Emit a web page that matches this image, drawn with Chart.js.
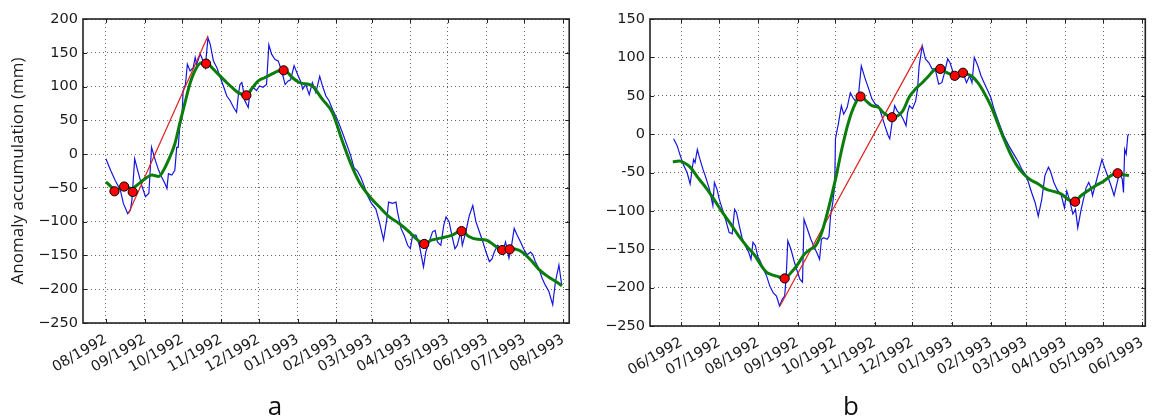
<!DOCTYPE html>
<html>
<head>
<meta charset="utf-8">
<script src="https://cdn.jsdelivr.net/npm/chart.js@4.4.0/dist/chart.umd.min.js"></script>
<style>
  body { margin: 0; background: #fff; }
  #wrap { position: relative; width: 1159px; height: 420px; overflow: hidden; background: #fff; }
  .panel { position: absolute; top: 0; }
  .tag { position: absolute; top: 392px; font: 26px "Open Sans", sans-serif; line-height: 26px; color: #111; transform: translateX(-50%); }
</style>
</head>
<body>
<div id="wrap">
  <canvas id="chartA" class="panel" width="580" height="420" style="left:0"></canvas>
  <canvas id="chartB" class="panel" width="579" height="420" style="left:580px"></canvas>
  <div class="tag" style="left:275px">a</div>
  <div class="tag" style="left:851px">b</div>
</div>
<script>
// Month positions: 0 = 01/1992, 12 = 01/1993, fraction = part of that month

// Panel a
const aTickMonths = [7, 8, 9, 10, 11, 12, 13, 14, 15, 16, 17, 18, 19];
const aTickLabels = ["08/1992", "09/1992", "10/1992", "11/1992", "12/1992", "01/1993", "02/1993",
  "03/1993", "04/1993", "05/1993", "06/1993", "07/1993", "08/1993"];
const aBlueX = [7.00, 7.12, 7.24, 7.37, 7.45, 7.56, 7.63, 7.67, 7.74, 7.84, 7.93, 8.02, 8.11, 8.18,
  8.28, 8.37, 8.45, 8.54, 8.59, 8.63, 8.72, 8.80, 8.85, 8.89, 8.93, 8.99, 9.02, 9.08, 9.13, 9.20,
  9.28, 9.33, 9.37, 9.46, 9.50, 9.59, 9.66, 9.72, 9.80, 9.89, 9.98, 10.07, 10.15, 10.24, 10.33,
  10.41, 10.46, 10.50, 10.55, 10.59, 10.63, 10.72, 10.76, 10.85, 10.94, 11.02, 11.11, 11.20, 11.26,
  11.33, 11.42, 11.50, 11.59, 11.68, 11.75, 11.82, 11.91, 12.00, 12.09, 12.13, 12.21, 12.30, 12.38,
  12.47, 12.57, 12.64, 12.73, 12.81, 12.90, 13.03, 13.17, 13.31, 13.41, 13.50, 13.60, 13.70, 13.79,
  13.89, 14.00, 14.11, 14.20, 14.31, 14.39, 14.44, 14.54, 14.63, 14.67, 14.76, 14.84, 14.93, 15.00,
  15.06, 15.15, 15.24, 15.35, 15.41, 15.50, 15.59, 15.66, 15.72, 15.81, 15.89, 15.95, 16.03, 16.10,
  16.18, 16.24, 16.33, 16.37, 16.46, 16.55, 16.64, 16.72, 16.81, 16.90, 16.98, 17.07, 17.14, 17.20,
  17.29, 17.35, 17.42, 17.50, 17.59, 17.66, 17.73, 17.81, 17.90, 17.98, 18.07, 18.16, 18.22, 18.28,
  18.37, 18.46, 18.54, 18.63, 18.73, 18.80, 18.89, 18.96];
const aBlueY = [-7, -24, -39, -53, -73, -88, -83, -68, -7, -29, -48, -63, -58, 10,
  -9, -24, -34, -44, -51, -29, -31, -24, 10, 10, 40, 54, 94, 103, 133, 123,
  128, 143, 133, 148, 143, 128, 172, 162, 138, 128, 113, 99, 86, 79, 69,
  62, 89, 103, 106, 94, 79, 69, 89, 99, 94, 101, 99, 103, 162,
  148, 140, 138, 123, 103, 108, 110, 131, 118, 106, 96, 103, 88, 106,
  91, 115, 101, 86, 79, 66, 51, 32, 12, -3, -20, -25, -35, -47,
  -62, -73, -81, -100, -127, -98, -71, -73, -71, -86, -110, -120, -135, -140,
  -120, -120, -135, -167, -145, -130, -115, -113, -130, -135, -105, -93, -100, -120,
  -140, -135, -115, -135, -115, -91, -76, -100, -115, -130, -145, -159, -155, -145,
  -135, -138, -145, -130, -154, -135, -110, -120, -130, -140, -149, -145, -149, -159,
  -169, -184, -194, -203, -223, -189, -164, -193];
const aGreenX = [7.00, 7.13, 7.24, 7.40, 7.50, 7.67, 7.84, 8.02, 8.19, 8.37, 8.50, 8.63, 8.80, 8.93,
  9.06, 9.19, 9.32, 9.48, 9.63, 9.76, 9.93, 10.11, 10.28, 10.45, 10.67, 10.80, 10.98, 11.15, 11.32,
  11.50, 11.64, 11.87, 12.04, 12.30, 12.38, 12.64, 12.90, 13.15, 13.40, 13.66, 13.98, 14.20, 14.46,
  14.72, 14.97, 15.19, 15.36, 15.58, 15.84, 16.11, 16.35, 16.54, 16.76, 16.98, 17.20, 17.40, 17.61,
  17.85, 18.03, 18.20, 18.38, 18.60, 18.82, 18.97];
const aGreenY = [-41, -48, -53, -50, -48, -51, -44, -36, -31, -33, -24, -9, 15, 45,
  74, 103, 123, 135, 135, 128, 118, 108, 99, 91, 87, 96, 108, 113, 118,
  123, 125, 113, 106, 103, 101, 81, 61, 22, -13, -42, -65, -78, -93,
  -103, -115, -127, -132, -127, -124, -120, -113, -122, -126, -127, -135, -142, -140,
  -142, -149, -159, -171, -181, -189, -195];
const aRedX = [7.58, 9.66];
const aRedY = [-88, 175];
const aDotX = [7.22, 7.47, 7.69, 9.61, 10.67, 11.64, 15.37, 16.35, 17.41, 17.61];
const aDotY = [-55, -48, -56, 134, 87, 124, -133, -114, -142, -141];

// Panel b
const bTickMonths = [5, 6, 7, 8, 9, 10, 11, 12, 13, 14, 15, 16, 17];
const bTickLabels = ["06/1992", "07/1992", "08/1992", "09/1992", "10/1992", "11/1992", "12/1992",
  "01/1993", "02/1993", "03/1993", "04/1993", "05/1993", "06/1993"];
const bBlueX = [4.80, 4.89, 4.97, 5.06, 5.15, 5.23, 5.32, 5.36, 5.42, 5.49, 5.57, 5.66, 5.74, 5.83,
  5.87, 5.94, 6.00, 6.08, 6.17, 6.25, 6.33, 6.39, 6.44, 6.50, 6.58, 6.67, 6.75, 6.81, 6.86, 6.92,
  6.98, 7.04, 7.13, 7.21, 7.29, 7.38, 7.46, 7.54, 7.61, 7.67, 7.71, 7.75, 7.83, 7.92, 8.00, 8.06,
  8.13, 8.17, 8.26, 8.35, 8.43, 8.52, 8.58, 8.63, 8.69, 8.78, 8.83, 8.87, 8.93, 8.98, 9.00, 9.08,
  9.15, 9.21, 9.30, 9.38, 9.44, 9.51, 9.59, 9.66, 9.76, 9.85, 9.93, 10.02, 10.10, 10.19, 10.27,
  10.36, 10.40, 10.46, 10.53, 10.60, 10.68, 10.75, 10.83, 10.87, 10.92, 11.00, 11.08, 11.13, 11.17,
  11.25, 11.33, 11.42, 11.50, 11.58, 11.67, 11.75, 11.82, 11.90, 11.96, 12.04, 12.13, 12.21, 12.29,
  12.38, 12.46, 12.52, 12.58, 12.67, 12.75, 12.83, 12.90, 13.00, 13.09, 13.23, 13.37, 13.51, 13.65,
  13.79, 13.88, 14.00, 14.06, 14.14, 14.23, 14.31, 14.40, 14.48, 14.57, 14.62, 14.71, 14.79, 14.90,
  14.98, 15.04, 15.11, 15.20, 15.27, 15.33, 15.42, 15.48, 15.55, 15.62, 15.68, 15.72, 15.81, 15.90,
  15.97, 16.02, 16.11, 16.20, 16.28, 16.34, 16.42, 16.49, 16.52, 16.55, 16.59, 16.63, 16.66];
const bBlueY = [-6, -15, -28, -41, -50, -65, -33, -37, -20, -33, -46, -59, -72, -93,
  -63, -72, -85, -98, -113, -128, -130, -98, -102, -117, -135, -146, -154, -163, -141, -145,
  -159, -165, -176, -185, -198, -207, -211, -224, -215, -211, -185, -139, -150, -167, -180, -189,
  -193, -111, -124, -137, -146, -156, -163, -137, -135, -137, -133, -107, -89, -67, -6, 15,
  37, 26, 35, 54, 48, 43, 52, 89, 72, 59, 46, 39, 37, 24, 11,
  -2, -6, 15, 37, 30, 26, 20, 11, 28, 37, 33, 43, 59, 89,
  115, 98, 93, 85, 85, 65, 67, 80, 98, 93, 80, 76, 74, 80,
  67, 76, 67, 100, 89, 76, 67, 59, 48, 33, 15, -2, -15, -26,
  -37, -46, -54, -63, -76, -89, -107, -85, -54, -43, -48, -63, -72, -80,
  -96, -74, -85, -104, -98, -122, -98, -85, -70, -63, -70, -80, -63, -46,
  -33, -41, -54, -67, -80, -67, -50, -59, -76, -20, -26, -2, 0];
const bGreenX = [4.78, 4.95, 5.06, 5.23, 5.44, 5.65, 5.86, 6.08, 6.29, 6.50, 6.70, 6.92, 7.08, 7.21,
  7.33, 7.46, 7.67, 7.84, 8.00, 8.17, 8.34, 8.47, 8.64, 8.81, 9.00, 9.16, 9.33, 9.50, 9.64, 9.79,
  9.93, 10.10, 10.23, 10.46, 10.74, 10.91, 11.08, 11.25, 11.42, 11.54, 11.71, 11.88, 12.08, 12.29,
  12.50, 12.67, 12.83, 13.00, 13.19, 13.37, 13.56, 13.74, 13.93, 14.10, 14.31, 14.52, 14.73, 14.90,
  15.07, 15.24, 15.42, 15.59, 15.81, 16.02, 16.20, 16.37, 16.50, 16.66];
const bGreenY = [-36, -35, -37, -43, -57, -70, -85, -102, -117, -133, -146, -159, -172, -180,
  -183, -185, -188, -180, -170, -157, -150, -146, -128, -98, -59, -20, 15, 39, 49, 43,
  37, 35, 28, 22, 30, 48, 59, 67, 76, 83, 85, 80, 77, 79,
  76, 67, 54, 37, 15, -6, -26, -41, -52, -59, -65, -72, -75, -78,
  -85, -88, -80, -74, -67, -61, -54, -51, -53, -54];
const bRedX = [7.55, 11.25];
const bRedY = [-224, 115];
const bDotX = [7.67, 9.64, 10.46, 11.71, 12.08, 12.29, 15.26, 16.37];
const bDotY = [-188, 49, 22, 85, 76, 80, -88, -51];

const DAY_MS = 86400000;
const TICK_FONT = { family: "DejaVu Sans", size: 14.5 };

// Convert a month position into days since 01/01/1992
function monthToDay(m) {
  const whole = Math.floor(m);
  const start = Date.UTC(1992, whole, 1);
  const next = Date.UTC(1992, whole + 1, 1);
  return (start + (m - whole) * (next - start)) / DAY_MS;
}

function toPoints(xs, ys) {
  return xs.map((m, i) => ({ x: monthToDay(m), y: ys[i] }));
}

function minusSign(v) {
  return v < 0 ? "\u2212" + Math.abs(v) : String(v);
}

// Frame box and inward tick marks like the original figure
const framePlugin = {
  id: "frame",
  afterDraw(chart) {
    const { ctx, chartArea: a, scales } = chart;
    ctx.save();
    ctx.strokeStyle = "#222";
    ctx.lineWidth = 1;
    ctx.beginPath();
    scales.x.ticks.forEach((t) => {
      const px = Math.round(scales.x.getPixelForValue(t.value)) + 0.5;
      ctx.moveTo(px, a.top); ctx.lineTo(px, a.top + 4);
      ctx.moveTo(px, a.bottom); ctx.lineTo(px, a.bottom - 4);
    });
    scales.y.ticks.forEach((t) => {
      const py = Math.round(scales.y.getPixelForValue(t.value)) + 0.5;
      ctx.moveTo(a.left, py); ctx.lineTo(a.left + 4, py);
      ctx.moveTo(a.right, py); ctx.lineTo(a.right - 4, py);
    });
    ctx.stroke();
    ctx.lineWidth = 1.6;
    ctx.strokeRect(a.left, a.top, a.right - a.left, a.bottom - a.top);
    ctx.restore();
  },
};

function makeChart(id, p) {
  const ctx = document.getElementById(id).getContext("2d");
  return new Chart(ctx, {
    type: "line",
    data: {
      datasets: [
        {
          type: "scatter",
          data: toPoints(p.dotX, p.dotY),
          showLine: false,
          pointRadius: 4.6,
          backgroundColor: "#ff0000",
          borderColor: "#000",
          borderWidth: 1,
        },
        {
          data: toPoints(p.greenX, p.greenY),
          borderColor: "#0a7d0a",
          borderWidth: 3,
          pointRadius: 0,
          cubicInterpolationMode: "monotone",
        },
        {
          data: toPoints(p.redX, p.redY),
          borderColor: "#e02020",
          borderWidth: 1.2,
          pointRadius: 0,
        },
        {
          data: toPoints(p.blueX, p.blueY),
          borderColor: "#1515e0",
          borderWidth: 1.2,
          pointRadius: 0,
          tension: 0,
        },
      ],
    },
    options: {
      responsive: false,
      animation: false,
      devicePixelRatio: 1,
      layout: { padding: p.padding },
      plugins: { legend: { display: false }, tooltip: { enabled: false } },
      scales: {
        x: {
          type: "linear",
          min: monthToDay(p.xMin),
          max: monthToDay(p.xMax),
          afterBuildTicks: (s) => {
            s.ticks = p.tickMonths.map((m) => ({ value: monthToDay(m) }));
          },
          afterFit: (s) => { s.height = 60; },
          grid: { color: "rgba(0,0,0,0.6)", lineWidth: 1, drawTicks: false },
          border: { display: false, dash: [1, 3] },
          ticks: {
            autoSkip: false,
            minRotation: 30,
            maxRotation: 30,
            padding: 8,
            color: "#1a1a1a",
            font: TICK_FONT,
            callback: (v, i) => p.tickLabels[i],
          },
        },
        y: {
          min: p.yMin,
          max: p.yMax,
          afterFit: (s) => { s.width = p.yWidth; },
          grid: { color: "rgba(0,0,0,0.6)", lineWidth: 1, drawTicks: false },
          border: { display: false, dash: [1, 3] },
          ticks: {
            stepSize: 50,
            padding: 5,
            color: "#1a1a1a",
            font: TICK_FONT,
            callback: p.yLabel,
          },
          title: {
            display: !!p.yTitle,
            text: p.yTitle || "",
            color: "#1a1a1a",
            font: { family: "Open Sans", size: 17 },
            padding: { top: 8, bottom: 0 },
          },
        },
      },
    },
    plugins: [framePlugin],
  });
}

makeChart("chartA", {
  blueX: aBlueX, blueY: aBlueY, greenX: aGreenX, greenY: aGreenY,
  redX: aRedX, redY: aRedY, dotX: aDotX, dotY: aDotY,
  tickMonths: aTickMonths, tickLabels: aTickLabels,
  xMin: 6.41, xMax: 19.155, yMin: -250, yMax: 200,
  yWidth: 83, yTitle: "Anomaly accumulation (mm)",
  padding: { top: 19, right: 9, bottom: 37, left: 0 },
  yLabel: minusSign,
});

makeChart("chartB", {
  blueX: bBlueX, blueY: bBlueY, greenX: bGreenX, greenY: bGreenY,
  redX: bRedX, redY: bRedY, dotX: bDotX, dotY: bDotY,
  tickMonths: bTickMonths, tickLabels: bTickLabels,
  xMin: 4.197, xMax: 17.08, yMin: -250, yMax: 150,
  yWidth: 70, yTitle: "",
  padding: { top: 19, right: 5, bottom: 34, left: 0 },
  // the original has a plain hyphen on -50 in this panel
  yLabel: (v) => (v === -50 ? "-50" : minusSign(v)),
});
</script>
</body>
</html>
